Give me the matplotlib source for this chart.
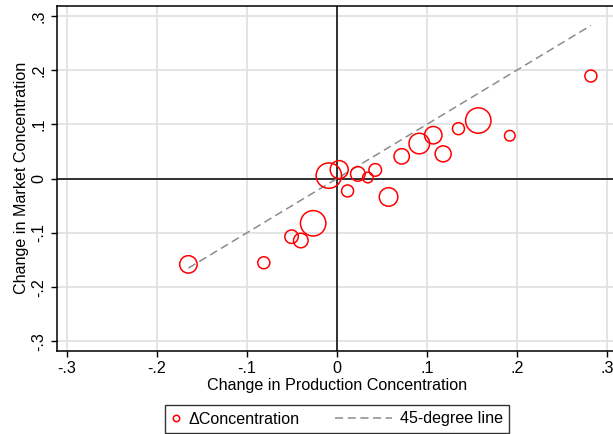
import numpy as np
import matplotlib.pyplot as plt
from matplotlib.lines import Line2D
from matplotlib.legend_handler import HandlerLine2D

plt.rcParams['font.family'] = ['Liberation Sans', 'DejaVu Sans']

# change in production concentration (x), change in market concentration (y)
prod_chg = [0.282, 0.157, 0.135, 0.192, 0.107, 0.0915, 0.118, 0.072, 0.0426, 0.0233,
            0.0344, 0.0026, -0.0089, 0.0119, 0.0574, -0.0263, -0.040, -0.0503, -0.0811, -0.1648]
mkt_chg = [0.189, 0.107, 0.092, 0.079, 0.080, 0.0646, 0.0456, 0.041, 0.016, 0.0087,
           0.002, 0.0166, 0.0055, -0.0227, -0.0338, -0.0823, -0.114, -0.107, -0.155, -0.158]
# weights (bubble area)
weight = [36, 161, 36, 28, 76, 106, 64, 59, 40, 53,
          28, 81, 161, 36, 86, 161, 53, 45, 36, 76]

ticks = [-0.3, -0.2, -0.1, 0, 0.1, 0.2, 0.3]
tick_labels = ['-.3', '-.2', '-.1', '0', '.1', '.2', '.3']

FS = 11.6
DASH = (0, (5.3, 3.0))


class LongDash(HandlerLine2D):
    # stretch the dashed line sample leftwards, keeping the short handle for the marker
    def create_artists(self, legend, orig_handle, xdescent, ydescent, width, height,
                       fontsize, trans):
        arts = super().create_artists(legend, orig_handle, xdescent, ydescent, width,
                                      height, fontsize, trans)
        ext = 2.95 * fontsize
        for a in arts:
            y = np.asarray(a.get_ydata())[0]
            a.set_data([-xdescent - ext, -xdescent + width], [y, y])
        return arts


fig = plt.figure(figsize=(6.13, 4.34), dpi=100)
ax = fig.add_axes([56.7/613, 1 - 350.7/434, (617 - 56.7)/613, (350.7 - 6)/434])

ax.set_xlim(-0.311, 0.311)
ax.set_ylim(-0.317, 0.318)
ax.set_xticks(ticks)
ax.set_xticklabels(tick_labels)
ax.set_yticks(ticks)
ax.set_yticklabels(tick_labels, rotation=90, va='center')
ax.grid(True, color='#e2e2e2', lw=1.3)
ax.set_axisbelow(True)
ax.axhline(0, color='black', lw=1.1, zorder=1)
ax.axvline(0, color='black', lw=1.1, zorder=1)

# bubble size: radius in px ~ sqrt(weight), converted to points^2
r_px = np.sqrt(np.array(weight))
sizes = (2 * r_px * 0.72) ** 2
ax.scatter(prod_chg, mkt_chg, s=sizes, facecolors='none', edgecolors='#ff0000',
           linewidths=1.1, zorder=3)

lo, hi = min(prod_chg), max(prod_chg)
ax.plot([lo, hi], [lo, hi], color='#8c8c8c', lw=1.1, ls=DASH, zorder=2)

ax.tick_params(direction='out', length=4, width=1, labelsize=FS, colors='black')
for side in ['top', 'right', 'left', 'bottom']:
    ax.spines[side].set_linewidth(1.1)
    ax.spines[side].set_color('black')

ax.set_xlabel('Change in Production Concentration', fontsize=FS, labelpad=1)
ax.set_ylabel('Change in Market Concentration', fontsize=FS, labelpad=2)

h_marker = Line2D([], [], ls='none', marker='o', ms=4.6, mfc='none', mec='#ff0000', mew=1.1)
h_line = Line2D([], [], color='#8c8c8c', lw=1.1, ls=DASH)
leg = fig.legend([h_marker, h_line], ['\u0394Concentration', '45-degree line'],
                 loc='center', bbox_to_anchor=(337/613, 1 - 419/434), ncol=2, fontsize=FS,
                 frameon=True, fancybox=False, edgecolor='black', handlelength=0.6,
                 handletextpad=0.5, columnspacing=5.1, borderpad=0.4,
                 handler_map={h_line: LongDash()})
leg.get_frame().set_linewidth(1.0)

fig.savefig('out.png', dpi=100)
